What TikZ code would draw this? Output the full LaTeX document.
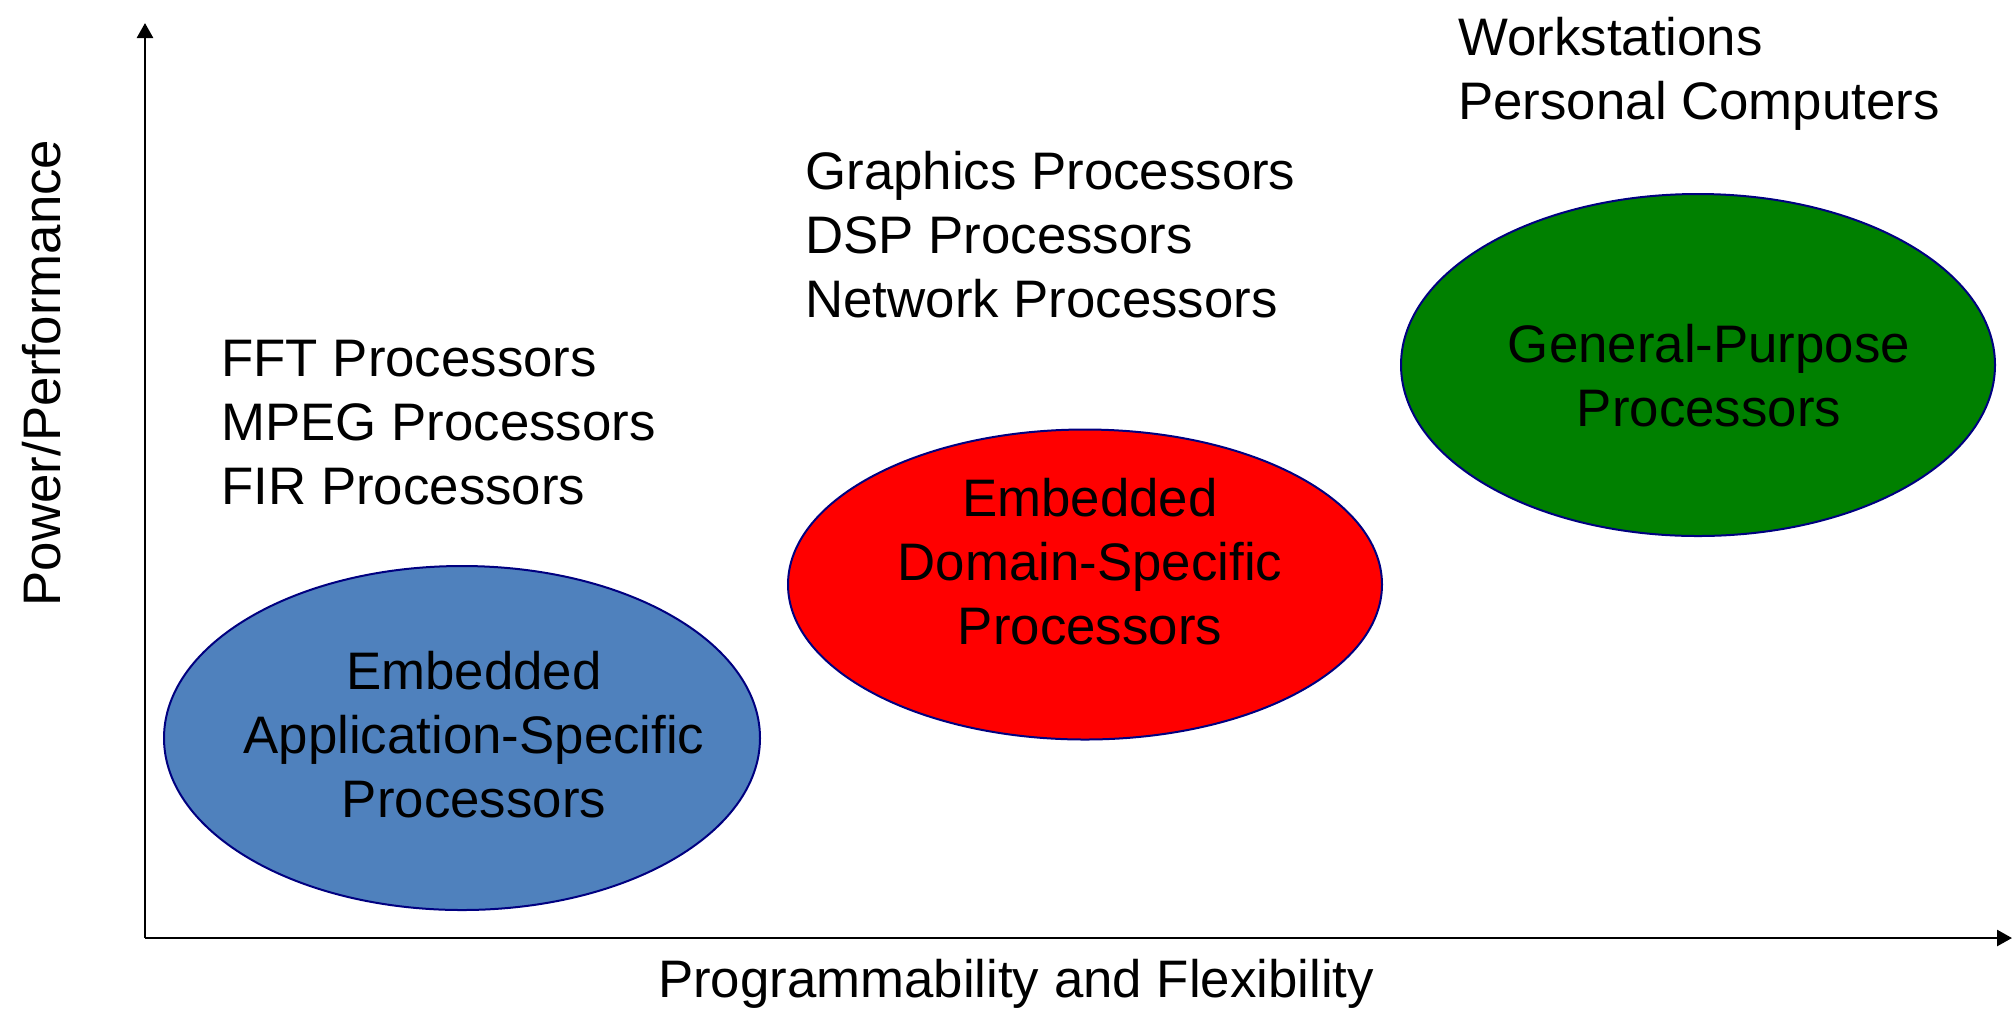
\documentclass[tikz,border=0pt]{standalone}
\usepackage{fontspec}
\setmainfont{Liberation Sans}
\usetikzlibrary{arrows.meta,shapes.geometric}
\definecolor{ablue}{RGB}{79,129,189}
\definecolor{edgeblue}{RGB}{0,0,128}
\definecolor{ggreen}{RGB}{0,128,0}
\begin{document}
\begin{tikzpicture}[x=0.5pt,y=-0.5pt,
  lbl/.style={font=\fontsize{26.4}{32}\selectfont, inner sep=0pt, align=left},
  ctext/.style={font=\fontsize{26.4}{32}\selectfont, inner sep=0pt, align=center},
  blob/.style={draw=edgeblue, line width=1pt},
  axis/.style={line width=1.3pt, -{Triangle[length=7.5pt,width=8pt]}}]
\useasboundingbox (0,0) rectangle (2012,1014);
% axes
\coordinate (o) at (145,938);
\coordinate (ytop) at (145,23);
\coordinate (xend) at (2012,938);
\draw[axis] (o) -- (ytop);
\draw[axis] (o) -- (xend);
% ellipses
\draw[blob, fill=ablue] (462,738) ellipse [x radius=298, y radius=172];
\draw[blob, fill=red] (1085,584.5) ellipse [x radius=297, y radius=155];
\draw[blob, fill=ggreen] (1698,365) ellipse [x radius=297, y radius=171];
\node[ctext] (eas) at (474,735) {Embedded\\Application-Specific\\Processors};
\node[ctext] (eds) at (1090,562) {Embedded\\Domain-Specific\\Processors};
\node[ctext] (gpp) at (1709,376) {General-Purpose\\Processors};
% labels
\node[lbl, anchor=west] (l1) at (221,423) {FFT Processors\\MPEG Processors\\FIR Processors};
\node[lbl, anchor=west] (l2) at (805,235) {Graphics Processors\\DSP Processors\\Network Processors};
\node[lbl, anchor=west] (l3) at (1458,74) {Workstations\\Personal Computers};
% axis labels
\node[ctext, rotate=90] (ylab) at (42,373) {Power/Performance};
\node[ctext] (xlab) at (1016,984) {Programmability and Flexibility};
\end{tikzpicture}
\end{document}
